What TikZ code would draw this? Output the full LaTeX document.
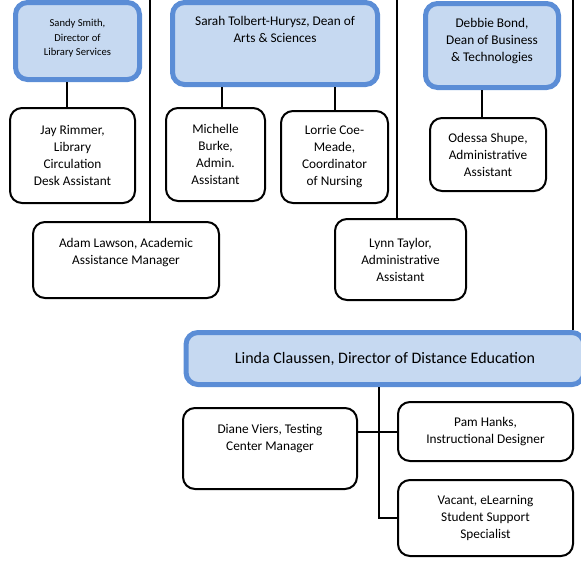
\documentclass[tikz,border=0pt]{standalone}
\usepackage{fontspec}
\setmainfont{Carlito}
\definecolor{headblue}{HTML}{5B8DD6}
\definecolor{headfill}{HTML}{C6D9F1}
\tikzset{
  headbox/.style={draw=headblue, fill=headfill, line width=5pt, rounded corners=12pt, align=center, inner sep=0pt, font=\fontsize{13.3}{17}\selectfont},
  staffbox/.style={draw=black, line width=2pt, rounded corners=12pt, align=center, inner sep=0pt, font=\fontsize{13.3}{17}\selectfont},
  link/.style={line width=2pt}
}
\begin{document}
\begin{tikzpicture}[x=1pt,y=-1pt]
    \useasboundingbox (0,0) rectangle (581,560);

    \coordinate (t1) at (150,0);
    \coordinate (t2) at (397,0);
    \coordinate (t3) at (573,0);

    \node[headbox, minimum width=124pt, minimum height=77pt, font=\fontsize{10.6}{14.5}\selectfont, text depth=7pt] (sandy) at (77.5,41) {Sandy Smith,\\Director of\\Library Services};
    \node[headbox, minimum width=205pt, minimum height=82pt, text depth=29pt] (sarah) at (275,43.5) {Sarah Tolbert-Hurysz, Dean of\\Arts \& Sciences};
    \node[headbox, minimum width=133pt, minimum height=84pt, text depth=11pt] (debbie) at (492,45.5) {Debbie Bond,\\Dean of Business\\\& Technologies};

    \node[staffbox, minimum width=125pt, minimum height=95pt] (jay) at (72.5,155.5) {Jay Rimmer,\\Library\\Circulation\\Desk Assistant};
    \node[staffbox, minimum width=99pt, minimum height=93pt] (michelle) at (215.5,154.5) {Michelle\\Burke,\\Admin.\\Assistant};
    \node[staffbox, minimum width=107pt, minimum height=92pt] (lorrie) at (334.5,157) {Lorrie Coe-\\Meade,\\Coordinator\\of Nursing};
    \node[staffbox, minimum width=116pt, minimum height=73pt] (odessa) at (488,154.5) {Odessa Shupe,\\Administrative\\Assistant};

    \node[staffbox, minimum width=186pt, minimum height=76pt, text depth=18pt] (adam) at (126,260) {Adam Lawson, Academic\\Assistance Manager};
    \node[staffbox, minimum width=131pt, minimum height=81pt] (lynn) at (400.5,259.5) {Lynn Taylor,\\Administrative\\Assistant};

    \node[headbox, minimum width=398pt, minimum height=52pt, font=\fontsize{16}{20}\selectfont] (linda) at (385,358.5) {Linda Claussen, Director of Distance Education};

    \node[staffbox, minimum width=174pt, minimum height=81pt, text depth=23pt] (diane) at (270,448.5) {Diane Viers, Testing\\Center Manager};
    \node[staffbox, minimum width=175pt, minimum height=59pt] (pam) at (485.5,431.5) {Pam Hanks,\\Instructional Designer};
    \node[staffbox, minimum width=175pt, minimum height=76pt] (vacant) at (485.5,518) {Vacant, eLearning\\Student Support\\Specialist};

    \draw[link] (t1) -- (t1 |- adam.north);
    \draw[link] (t2) -- (t2 |- lynn.north);
    \draw[link] (t3) -- (t3 |- linda.north);

    \draw[link] ([xshift=-5.5pt]jay.north) -- ([xshift=-5.5pt]jay.north |- sandy.south);
    \draw[link] ([xshift=6.5pt]michelle.north) -- ([xshift=6.5pt]michelle.north |- sarah.south);
    \draw[link] (lorrie.north) -- (lorrie.north |- sarah.south);
    \draw[link] ([xshift=-6pt]odessa.north) -- ([xshift=-6pt]odessa.north |- debbie.south);

    \draw[link] ([xshift=-6pt]linda.south) |- (vacant.west);
    \draw[link] (pam.west) -- (pam.west -| diane.east);

\end{tikzpicture}
\end{document}
